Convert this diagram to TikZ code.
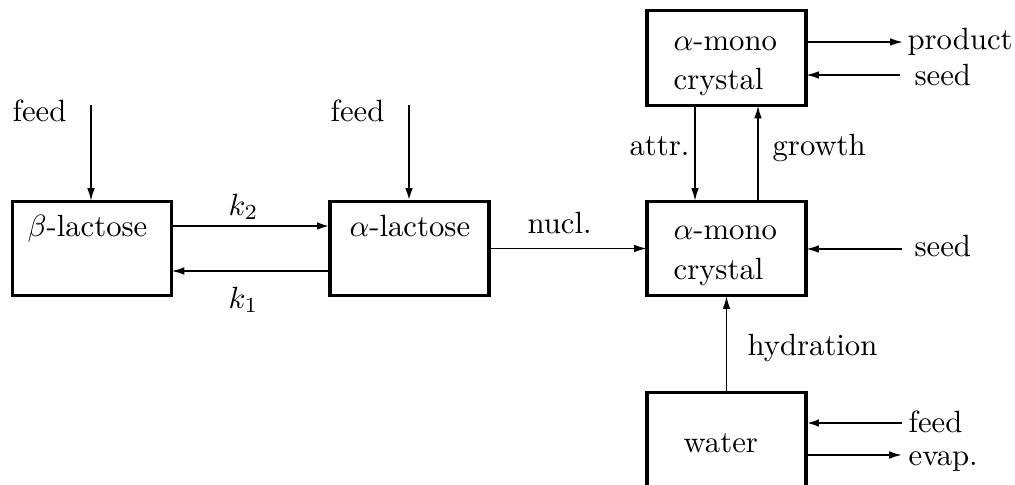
\documentclass[tikz,border=0pt]{standalone}
\usetikzlibrary{arrows.meta,calc}
\begin{document}
\begin{tikzpicture}[x=0.3257pt,y=-0.3257pt,
  box/.style={draw,line width=1pt,minimum width=51.8pt,minimum height=30.9pt,inner sep=0pt,outer sep=0pt},
  arr/.style={line width=0.6pt,-{Latex[length=4.2pt,width=2.5pt]}},
  thickarr/.style={arr,line width=0.9pt},
  lbl/.style={inner sep=0pt,anchor=base west},
  lble/.style={inner sep=0pt,anchor=base east}]
\useasboundingbox (0,0) rectangle (1015,484);
\clip (0,0) rectangle (1015,484);
% boxes
\node[box] (beta) at (92,248.5) {};
\node[box] (alphal) at (409.5,248.5) {};
\node[box] (mtop) at (726.5,58) {};
\node[box] (mmid) at (726.5,248.5) {};
\node[box,minimum height=40pt] (water) at (726.5,453.5) {};
% box texts
\node[lbl] (tbeta) at (27,236) {$\beta$-lactose};
\node[lbl] (talpha) at (349,236) {$\alpha$-lactose};
\node[lbl] (ttop1) at (673,50) {$\alpha$-mono};
\node[lbl] (ttop2) at (673,89) {crystal};
\node[lbl] (tmid1) at (673,239) {$\alpha$-mono};
\node[lbl] (tmid2) at (673,279) {crystal};
\node[lbl] (twater) at (683,452) {water};
% free-end labels
\node[lbl] (feed1) at (12,121) {feed};
\node[lbl] (feed2) at (330,121) {feed};
\node[lbl] (product) at (907,49) {product};
\node[lbl] (seed1) at (914,85) {seed};
\node[lbl] (seed2) at (914,256) {seed};
\node[lbl] (feed3) at (908,432) {feed};
\node[lbl] (evap) at (908,465) {evap.};
% connector labels
\node[lbl] (k2) at (228,215) {$k_2$};
\node[lbl] (k1) at (228,308) {$k_1$};
\node[lbl] (nucl) at (527,233) {nucl.};
\node[lble] (attr) at (690,155) {attr.};
\node[lbl] (growth) at (772,155) {growth};
\node[lbl] (hydr) at (747,355) {hydration};
% coordinates for free ends / levels
\coordinate (f1) at (91,105);
\coordinate (f2) at (409,105);
\coordinate (yk2) at (0,226);
\coordinate (yk1) at (0,271);
\coordinate (pe) at (903,42);
\coordinate (s1) at (900,75);
\coordinate (s2) at (902,249);
\coordinate (f3) at (902,423);
\coordinate (ev) at (902,455);
\coordinate (xattr) at (695,0);
\coordinate (xgrowth) at (758,0);
% connectors
\draw[arr] (f1) -- (f1 |- beta.north);
\draw[thickarr] (f2) -- (f2 |- alphal.north);
\draw[thickarr] (beta.east |- yk2) -- (alphal.west |- yk2);
\draw[arr] (alphal.west |- yk1) -- (beta.east |- yk1);
\draw[arr] (alphal.east) -- (mmid.west);
\draw[arr] (mtop.east |- pe) -- (pe);
\draw[arr] (s1) -- (mtop.east |- s1);
\draw[arr] (xattr |- mtop.south) -- (xattr |- mmid.north);
\draw[arr] (xgrowth |- mmid.north) -- (xgrowth |- mtop.south);
\draw[arr] (s2) -- (mmid.east |- s2);
\draw[arr] (water.north) -- (mmid.south);
\draw[thickarr] (f3) -- (water.east |- f3);
\draw[arr] (water.east |- ev) -- (ev);
\end{tikzpicture}
\end{document}
